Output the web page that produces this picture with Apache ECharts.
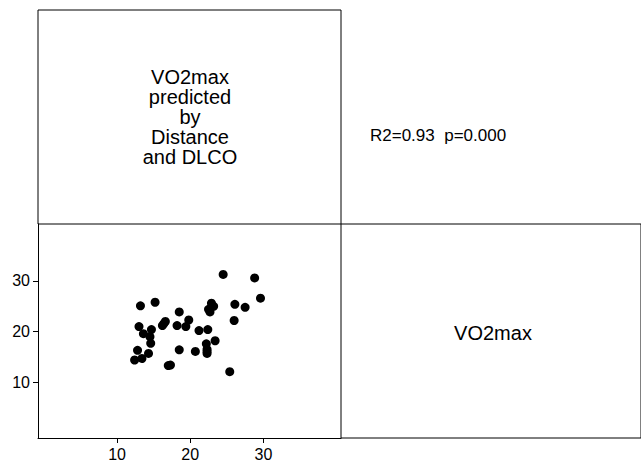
<!DOCTYPE html>
<html>
<head>
<meta charset="utf-8">
<script src="https://cdn.jsdelivr.net/npm/echarts@6/dist/echarts.min.js"></script>
<style>
html,body{margin:0;padding:0;background:#fff;}
#chart{width:641px;height:469px;}
</style>
</head>
<body>
<div id="chart"></div>
<script>
// Distance (x) vs VO2max (y)
const distance = [24.5, 28.8, 29.6, 13.2, 15.2, 22.9, 23.2, 22.7, 22.5, 26.1, 27.5, 18.5, 26.0,
  13.0, 16.6, 16.4, 16.2, 18.2, 19.8, 19.4, 14.7, 13.6, 14.5, 14.6, 21.2, 22.4, 23.4,
  22.2, 22.3, 22.3, 22.3, 20.7, 18.5, 12.8, 14.3, 12.4, 13.4, 17.0, 17.3, 25.4];
const vo2max = [31.3, 30.6, 26.6, 25.1, 25.8, 25.6, 25.0, 23.9, 24.4, 25.4, 24.8, 23.9, 22.2,
  21.0, 22.0, 21.6, 21.2, 21.2, 22.3, 21.0, 20.4, 19.6, 19.0, 17.7, 20.2, 20.4, 18.2,
  17.6, 16.5, 16.1, 15.7, 16.1, 16.4, 16.3, 15.7, 14.4, 14.7, 13.3, 13.4, 12.1];
const xTicks = [10, 20, 30];
const yTicks = [10, 20, 30];
const titleLines = ['VO2max', 'predicted', 'by', 'Distance', 'and DLCO'];
const statText = 'R2=0.93  p=0.000';
const diagLabel = 'VO2max';

const points = distance.map((d, i) => [d, vo2max[i]]);
const FONT = 'Liberation Sans';

const labelStyle = {show: true, color: '#000', fontSize: 16, fontFamily: FONT, margin: 8};

const chart = echarts.init(document.getElementById('chart'), null, {renderer: 'svg'});
chart.setOption({
  animation: false,
  backgroundColor: '#fff',
  textStyle: {fontFamily: FONT, fontSize: 16, color: '#000'},
  grid: [
    {left: 38, top: 224, width: 303, height: 214, show: false, containLabel: false},
    {left: 38, top: 10, width: 303, height: 214, show: true, borderColor: '#000', borderWidth: 1, backgroundColor: 'transparent'},
    {left: 341, top: 224, width: 320, height: 214, show: true, borderColor: '#000', borderWidth: 1, backgroundColor: 'transparent'}
  ],
  xAxis: [
    {
      gridIndex: 0, type: 'value', min: -0.8, max: 40.6,
      axisLine: {show: true, onZero: false, lineStyle: {color: '#000', width: 1}},
      axisTick: {show: true, length: 5, lineStyle: {color: '#000'}, customValues: xTicks},
      axisLabel: Object.assign({customValues: xTicks}, labelStyle),
      splitLine: {show: false}
    },
    {gridIndex: 1, type: 'value', show: false, min: 0, max: 1},
    {gridIndex: 2, type: 'value', show: false, min: 0, max: 1}
  ],
  yAxis: [
    {
      gridIndex: 0, type: 'value', min: -1, max: 41.25,
      axisLine: {show: true, onZero: false, lineStyle: {color: '#000', width: 1}},
      axisTick: {show: true, length: 5, lineStyle: {color: '#000'}, customValues: yTicks},
      axisLabel: Object.assign({customValues: yTicks}, labelStyle),
      splitLine: {show: false}
    },
    {gridIndex: 1, type: 'value', show: false, min: 0, max: 1},
    {gridIndex: 2, type: 'value', show: false, min: 0, max: 1}
  ],
  series: [{
    type: 'scatter',
    xAxisIndex: 0, yAxisIndex: 0,
    data: points,
    symbol: 'circle',
    symbolSize: 9,
    itemStyle: {color: '#000', opacity: 1},
    silent: true
  }],
  graphic: [
    {
      type: 'text', x: 190, y: 117,
      style: {
        text: titleLines.join('\n'), fill: '#000', fontSize: 20, fontFamily: FONT,
        align: 'center', verticalAlign: 'middle', lineHeight: 20
      }
    },
    {
      type: 'text', x: 370, y: 135,
      style: {text: statText, fill: '#000', fontSize: 17, fontFamily: FONT, align: 'left', verticalAlign: 'middle'}
    },
    {
      type: 'text', x: 493, y: 333,
      style: {text: diagLabel, fill: '#000', fontSize: 20, fontFamily: FONT, align: 'center', verticalAlign: 'middle'}
    }
  ]
});
</script>
</body>
</html>
